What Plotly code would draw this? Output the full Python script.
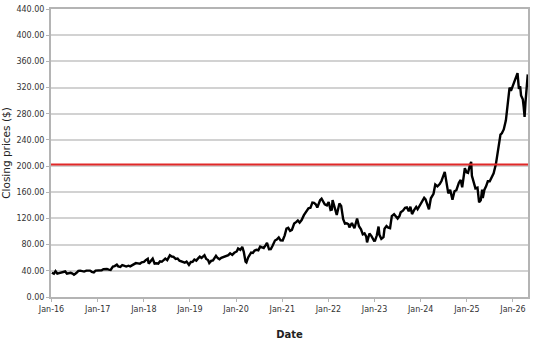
import plotly.graph_objects as go

# ---- data ----
dates = [
 "2016-01-04","2016-01-20","2016-02-02","2016-02-16","2016-03-01","2016-03-15","2016-04-01","2016-04-18",
 "2016-05-02","2016-05-16","2016-06-01","2016-06-15","2016-06-27","2016-07-15","2016-08-01","2016-08-15",
 "2016-09-01","2016-09-15","2016-10-03","2016-10-17","2016-11-01","2016-11-15","2016-12-01","2016-12-15",
 "2017-01-03","2017-01-17","2017-02-01","2017-02-15","2017-03-01","2017-03-15","2017-03-29","2017-04-13",
 "2017-05-01","2017-05-15","2017-06-01","2017-06-12","2017-06-29","2017-07-14","2017-07-27","2017-08-15",
 "2017-09-01","2017-09-15","2017-10-02","2017-10-16","2017-10-30","2017-11-15","2017-12-01","2017-12-15",
 "2018-01-02","2018-01-16","2018-02-01","2018-02-08","2018-02-26","2018-03-12","2018-03-27","2018-04-10",
 "2018-04-25","2018-05-09","2018-05-23","2018-06-06","2018-06-20","2018-07-05","2018-07-26","2018-08-10",
 "2018-08-24","2018-09-10","2018-09-25","2018-10-10","2018-10-25","2018-11-08","2018-11-21","2018-12-05",
 "2018-12-24",
 "2019-01-08","2019-01-22","2019-02-05","2019-02-20","2019-03-05","2019-03-20","2019-04-03","2019-04-26",
 "2019-05-10","2019-05-24","2019-06-03","2019-06-18","2019-07-02","2019-07-26","2019-08-09","2019-08-23",
 "2019-09-06","2019-09-20","2019-10-04","2019-10-18","2019-11-01","2019-11-15","2019-12-02","2019-12-18",
 "2020-01-06","2020-01-17","2020-02-04","2020-02-19","2020-03-02","2020-03-16","2020-03-23","2020-04-06",
 "2020-04-29","2020-05-13","2020-05-27","2020-06-10","2020-06-25","2020-07-10","2020-07-24","2020-08-07",
 "2020-08-21","2020-09-02","2020-09-18","2020-10-02","2020-10-16","2020-11-04","2020-11-18","2020-12-04",
 "2020-12-18",
 "2021-01-04","2021-01-20","2021-02-03","2021-02-17","2021-03-04","2021-03-18","2021-04-05","2021-04-20",
 "2021-05-04","2021-05-18","2021-06-03","2021-06-21","2021-07-07","2021-07-27","2021-08-12","2021-08-27",
 "2021-09-09","2021-09-24","2021-10-05","2021-10-27","2021-11-08","2021-11-22","2021-12-03","2021-12-20",
 "2022-01-03","2022-01-18","2022-01-28","2022-02-03","2022-02-23","2022-03-08","2022-03-29","2022-04-12",
 "2022-04-28","2022-05-12","2022-05-26","2022-06-09","2022-06-16","2022-07-06","2022-07-26","2022-08-16",
 "2022-08-31","2022-09-16","2022-09-30","2022-10-14","2022-10-27","2022-11-03","2022-11-22","2022-12-08",
 "2022-12-28",
 "2023-01-05","2023-01-19","2023-02-02","2023-02-09","2023-02-24","2023-03-13","2023-03-21","2023-04-06",
 "2023-04-20","2023-05-04","2023-05-18","2023-06-05","2023-06-16","2023-07-03","2023-07-18","2023-07-27",
 "2023-08-14","2023-08-31","2023-09-14","2023-09-29","2023-10-12","2023-10-25","2023-11-10","2023-11-27",
 "2023-12-08","2023-12-27",
 "2024-01-09","2024-01-29","2024-02-09","2024-02-26","2024-03-07","2024-03-22","2024-04-12","2024-04-26",
 "2024-05-13","2024-05-31","2024-06-14","2024-07-10","2024-07-24","2024-08-07","2024-08-22","2024-09-09",
 "2024-09-25","2024-10-10","2024-10-30","2024-11-13","2024-11-25","2024-12-10","2024-12-16","2024-12-30",
 "2025-01-10","2025-01-24","2025-02-04","2025-02-10","2025-02-28","2025-03-10","2025-03-26","2025-04-04",
 "2025-04-08","2025-04-21","2025-05-02","2025-05-07","2025-05-20","2025-06-02","2025-06-16","2025-07-01",
 "2025-07-18","2025-08-01","2025-08-19","2025-09-09","2025-09-24","2025-10-05","2025-10-20","2025-11-06",
 "2025-11-13","2025-11-25","2025-12-05","2025-12-16",
 "2026-01-05","2026-01-19","2026-01-30","2026-02-06","2026-02-17","2026-02-27","2026-03-06","2026-03-20",
 "2026-03-27","2026-04-03","2026-04-10","2026-04-17","2026-04-28",
]
closing = [
 37.0,35.5,39.4,35.6,36.5,37.1,37.8,39.0,
 35.8,36.2,36.9,35.8,34.1,36.5,39.9,40.3,
 39.5,38.8,40.3,40.5,40.3,38.5,37.6,40.4,
 40.4,41.0,40.8,42.4,42.7,42.7,41.9,41.4,
 46.6,47.3,49.4,46.8,46.0,48.6,47.9,46.5,
 47.8,46.8,48.7,50.3,51.8,51.4,50.9,53.0,
 53.6,56.3,58.4,51.0,55.2,58.5,51.0,51.6,
 51.0,54.4,53.8,56.6,58.7,56.4,63.7,61.8,
 61.4,58.3,58.9,55.4,54.3,54.1,52.5,54.2,
 49.2,
 53.5,53.8,57.2,55.6,58.6,61.6,59.6,63.8,
 58.2,56.5,51.9,55.2,56.0,62.9,59.4,57.7,
 59.8,61.1,61.2,62.6,64.0,66.8,64.4,67.5,
 69.6,74.2,72.0,76.5,69.0,53.9,52.7,60.5,
 67.9,67.2,70.9,72.0,71.4,77.0,76.0,74.8,
 79.0,82.8,72.9,73.2,78.4,86.3,87.7,91.0,
 86.6,
 86.4,94.2,104.4,105.6,101.0,102.4,112.2,114.3,
 116.8,113.6,117.6,125.0,129.4,135.6,136.3,144.3,
 143.7,141.3,136.6,147.8,150.2,144.2,141.6,140.0,
 145.1,133.0,133.5,148.0,132.0,125.4,142.8,139.2,
 119.0,112.0,112.7,111.0,106.3,113.0,105.0,119.9,
 108.2,103.4,95.7,97.2,92.6,83.4,97.0,93.1,
 86.0,
 86.2,93.9,107.7,95.0,88.8,91.4,104.2,108.4,
 105.9,105.2,123.5,126.6,123.5,120.0,124.0,129.4,
 131.8,136.2,136.9,130.9,138.0,126.7,132.6,137.6,
 134.1,140.4,
 142.6,151.5,149.0,138.7,134.0,150.8,157.7,171.9,
 169.1,172.5,177.2,191.2,172.6,158.3,163.8,148.7,
 161.5,163.1,174.7,178.9,167.6,185.2,196.7,190.4,
 189.6,200.2,206.4,185.3,170.3,165.9,167.0,145.6,
 144.7,147.7,164.0,151.4,163.9,169.0,176.8,176.9,
 185.1,189.1,203.0,232.0,248.0,250.0,256.0,270.0,
 282.0,300.0,320.0,315.0,
 325.0,330.0,336.0,342.0,318.0,322.0,308.0,302.0,
 290.0,275.0,297.0,318.0,340.0,
]
reference_level = 202.5
y_ticks = [0, 40, 80, 120, 160, 200, 240, 280, 320, 360, 400, 440]
x_ticks = ["2016-01-01","2017-01-01","2018-01-01","2019-01-01","2020-01-01","2021-01-01",
           "2022-01-01","2023-01-01","2024-01-01","2025-01-01","2026-01-01"]
x_tick_labels = ["Jan-16","Jan-17","Jan-18","Jan-19","Jan-20","Jan-21",
                 "Jan-22","Jan-23","Jan-24","Jan-25","Jan-26"]

FONT = "DejaVu Sans"

fig = go.Figure()
fig.add_trace(go.Scatter(x=dates, y=closing, mode="lines",
                         line=dict(color="black", width=2.4), showlegend=False))
fig.add_shape(type="line", xref="paper", x0=0, x1=1, yref="y",
              y0=reference_level, y1=reference_level,
              line=dict(color="rgb(225,40,40)", width=2))

fig.update_layout(
    width=541, height=344,
    margin=dict(l=45, r=13, t=5, b=46),
    paper_bgcolor="white", plot_bgcolor="white",
    font=dict(family=FONT, color="#333333"),
    xaxis=dict(
        type="date", range=["2015-12-28", "2026-04-30"],
        tickvals=x_ticks, ticktext=x_tick_labels,
        tickfont=dict(size=8, color="#333333"),
        showgrid=False, zeroline=False,
        showline=True, linecolor="#b4b4b4", linewidth=2, mirror=True,
        ticks="outside", ticklen=3, tickcolor="#b4b4b4",
        title=dict(text="<b>Date</b>", font=dict(size=10, color="#222222"), standoff=18),
    ),
    yaxis=dict(
        range=[0, 440], tickvals=y_ticks, tickformat=".2f",
        tickfont=dict(size=8, color="#333333"),
        showgrid=True, gridcolor="#d2d2d2", gridwidth=1.5, zeroline=False,
        showline=True, linecolor="#b4b4b4", linewidth=2, mirror=True,
        ticks="outside", ticklen=3, tickcolor="#b4b4b4",
        title=dict(text="Closing prices ($)", font=dict(size=10.5, color="#222222"), standoff=4),
    ),
)

fig.write_html("out.html")
